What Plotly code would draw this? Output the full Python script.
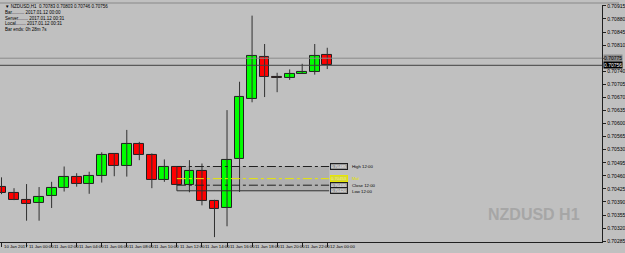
import plotly.graph_objects as go

# ---------------- data ----------------
bar_index = list(range(27))
opens  = [0.70430, 0.70414, 0.70396, 0.70388, 0.70405, 0.70427, 0.70458, 0.70437, 0.70460,
          0.70518, 0.70486, 0.70546, 0.70517, 0.70449, 0.70484, 0.70435, 0.70473, 0.70394,
          0.70375, 0.70504, 0.70667, 0.70778, 0.70726, 0.70722, 0.70734, 0.70737, 0.70783]
highs  = [0.70456, 0.70427, 0.70438, 0.70430, 0.70444, 0.70485, 0.70467, 0.70471, 0.70523,
          0.70520, 0.70583, 0.70551, 0.70520, 0.70504, 0.70485, 0.70502, 0.70493, 0.70396,
          0.70636, 0.70712, 0.70889, 0.70813, 0.70736, 0.70745, 0.70760, 0.70813, 0.70803]
lows   = [0.70411, 0.70395, 0.70340, 0.70340, 0.70374, 0.70418, 0.70431, 0.70412, 0.70442,
          0.70459, 0.70458, 0.70502, 0.70427, 0.70444, 0.70420, 0.70416, 0.70381, 0.70296,
          0.70325, 0.70417, 0.70657, 0.70671, 0.70684, 0.70717, 0.70733, 0.70731, 0.70746]
closes = [0.70414, 0.70396, 0.70385, 0.70404, 0.70427, 0.70456, 0.70437, 0.70459, 0.70517,
          0.70486, 0.70546, 0.70517, 0.70449, 0.70485, 0.70435, 0.70473, 0.70394, 0.70372,
          0.70502, 0.70670, 0.70781, 0.70726, 0.70722, 0.70734, 0.70738, 0.70780, 0.70756]
ask_price = 0.70775

time_label_bars = [0, 2, 4, 6, 8, 10, 12, 14, 16, 18, 20, 22, 24, 26]
time_labels = ["10 Jan 2017", "11 Jan 00:00", "11 Jan 02:00", "11 Jan 04:00", "11 Jan 06:00",
               "11 Jan 08:00", "11 Jan 10:00", "11 Jan 12:00", "11 Jan 14:00", "11 Jan 16:00",
               "11 Jan 18:00", "11 Jan 20:00", "11 Jan 22:00", "12 Jan 00:00"]
price_ticks = [0.70915, 0.70880, 0.70845, 0.70810, 0.70775, 0.70740, 0.70705, 0.70670,
               0.70635, 0.70600, 0.70565, 0.70530, 0.70495, 0.70460, 0.70425, 0.70390,
               0.70355, 0.70320, 0.70285]
info_lines = ["Bar.......... 2017.01.12 00:00",
              "Server........ 2017.01.12 00:31",
              "Local........ 2017.01.12 00:31",
              "Bar ends: 0h 28m 7s"]
level_bar = 14  # 11 Jan 12:00 candle

# ---------------- styling ----------------
W, H = 625, 253
BG = "#c0c0c0"
PX_L, PX_R, PX_T, PX_B = 0, 608, 3, 244
FONT = "Liberation Sans Narrow, Arial Narrow, Liberation Sans, Arial"

def py(p):
    return 1 - p / H

def pxx(p):
    return p / W

fig = go.Figure()

# wicks
wx, wy = [], []
for i, hi, lo in zip(bar_index, highs, lows):
    wx += [i, i, None]
    wy += [lo, hi, None]
fig.add_trace(go.Scatter(x=wx, y=wy, mode="lines", line=dict(color="#303030", width=1),
                         hoverinfo="skip", showlegend=False))

# bodies
base = [min(o, c) for o, c in zip(opens, closes)]
height = [max(abs(c - o), 0.00003) for o, c in zip(opens, closes)]
colors = ["#00ff00" if c >= o else "#ff0000" for o, c in zip(opens, closes)]
fig.add_trace(go.Bar(x=bar_index, y=height, base=base, width=0.78,
                     marker=dict(color=colors, line=dict(color="#202020", width=1)),
                     showlegend=False, hoverinfo="skip"))

last = bar_index[-1]
hi12, lo12, cl12 = highs[level_bar], lows[level_bar], closes[level_bar]
mid12 = (hi12 + lo12) / 2
end_x = last + 0.15

shapes = []
shapes.append(dict(type="rect", xref="x", yref="y", x0=level_bar, x1=end_x, y0=lo12, y1=hi12,
                   fillcolor="rgba(110,110,110,0.2)", line=dict(width=0), layer="below"))
shapes.append(dict(type="line", xref="x", yref="y", x0=level_bar, x1=end_x, y0=hi12, y1=hi12,
                   line=dict(color="#202020", width=1, dash="dashdot")))
shapes.append(dict(type="line", xref="x", yref="y", x0=level_bar, x1=end_x, y0=mid12, y1=mid12,
                   line=dict(color="#e8e800", width=1, dash="dashdot")))
shapes.append(dict(type="line", xref="x", yref="y", x0=level_bar, x1=end_x, y0=cl12, y1=cl12,
                   line=dict(color="#202020", width=1, dash="dashdot")))
shapes.append(dict(type="line", xref="x", yref="y", x0=level_bar, x1=end_x, y0=lo12, y1=lo12,
                   line=dict(color="#303030", width=1)))
# ask / bid lines
shapes.append(dict(type="line", xref="paper", yref="y", x0=0, x1=pxx(PX_R), y0=ask_price, y1=ask_price,
                   line=dict(color="#8a8a8a", width=1)))
shapes.append(dict(type="line", xref="paper", yref="y", x0=0, x1=pxx(PX_R), y0=closes[-1], y1=closes[-1],
                   line=dict(color="#404040", width=1)))
# top band
shapes.append(dict(type="rect", xref="paper", yref="paper", x0=0, x1=1, y0=py(2), y1=1,
                   fillcolor="#a4a4a4", line=dict(width=0)))

annotations = []
for b, t in zip(time_label_bars, time_labels):
    annotations.append(dict(x=b + 0.05, y=py(248.5), xref="x", yref="paper", text=t,
                            showarrow=False, xanchor="left", yanchor="middle",
                            font=dict(size=4.3, color="#000000", family=FONT)))

def level_box(price, border, fcol, bg):
    annotations.append(dict(x=last + 0.2, y=price, xref="x", yref="y", text=f"{price:.5f}",
                            showarrow=False, xanchor="left", yanchor="middle",
                            bordercolor=border, borderwidth=1, borderpad=0, bgcolor=bg,
                            font=dict(size=4.2, color=fcol, family=FONT)))

level_box(hi12, "#202020", "#ffffff", "#9a9a9a")
level_box(mid12, "#e8e800", "#f4f4a0", "#d6d63a")
level_box(cl12, "#202020", "#ffffff", "#9a9a9a")
level_box(lo12, "#202020", "#ffffff", "#9a9a9a")
for price, txt, col in [(hi12, "High 12:00", "#000000"), (mid12, "Mid", "#e0e000"),
                        (cl12, "Close 12:00", "#000000"), (lo12 - 0.00002, "Low 12:00", "#000000")]:
    annotations.append(dict(x=last + 1.85, y=price, xref="x", yref="y", text=txt,
                            showarrow=False, xanchor="left", yanchor="middle",
                            font=dict(size=4.3, color=col, family=FONT)))

# ask / bid labels on the price axis
annotations.append(dict(x=pxx(PX_R + 1), y=ask_price, xref="paper", yref="y", text=f"{ask_price:.5f}",
                        showarrow=False, xanchor="left", yanchor="middle", bgcolor="#8c8c8c",
                        borderpad=0, font=dict(size=5, color="#000000", family=FONT)))
annotations.append(dict(x=pxx(PX_R + 1), y=closes[-1], xref="paper", yref="y", text=f"{closes[-1]:.5f}",
                        showarrow=False, xanchor="left", yanchor="middle", bgcolor="#000000",
                        borderpad=0, font=dict(size=5, color="#ffffff", family=FONT)))

# info block top-left
title = f"\u25bc NZDUSD,H1  {opens[-1]:.5f} {highs[-1]:.5f} {lows[-1]:.5f} {closes[-1]:.5f}"
rows = [(4.5, title)] + list(zip([11.0, 16.5, 22.0, 27.5], info_lines))
for yy, t in rows:
    annotations.append(dict(x=pxx(3), y=py(yy), xref="paper", yref="paper", text=t,
                            showarrow=False, xanchor="left", yanchor="middle",
                            font=dict(size=4.5, color="#000000", family=FONT)))

# watermark
annotations.append(dict(x=pxx(588), y=py(216), xref="paper", yref="paper", text="<b>NZDUSD H1</b>",
                        showarrow=False, xanchor="right", yanchor="middle",
                        font=dict(size=16, color="#a6a6a6", family=FONT)))

tick_text = ["" if abs(v - ask_price) < 1e-7 else f"{v:.5f}" for v in price_ticks]

x_lo = -0.12
x_hi = x_lo + (PX_R - PX_L) / 12.65
fig.update_layout(
    width=W, height=H, margin=dict(l=0, r=0, t=0, b=0),
    paper_bgcolor=BG, plot_bgcolor=BG, barmode="overlay", bargap=0,
    shapes=shapes, annotations=annotations, showlegend=False,
    xaxis=dict(domain=[pxx(PX_L), pxx(PX_R)], range=[x_lo, x_hi], showgrid=False, zeroline=False,
               showline=True, linecolor="#202020", linewidth=1, ticks="outside", ticklen=4,
               tickcolor="#202020", tickvals=time_label_bars, showticklabels=False, fixedrange=True),
    yaxis=dict(domain=[py(PX_B), py(PX_T)], range=[0.702825, 0.709176], side="right",
               showgrid=False, zeroline=False, showline=True, linecolor="#202020", linewidth=1,
               ticks="outside", ticklen=3, tickcolor="#202020", tickvals=price_ticks,
               ticktext=tick_text,
               tickfont=dict(size=5, color="#000000", family=FONT), fixedrange=True),
)

fig.write_html("out.html")
